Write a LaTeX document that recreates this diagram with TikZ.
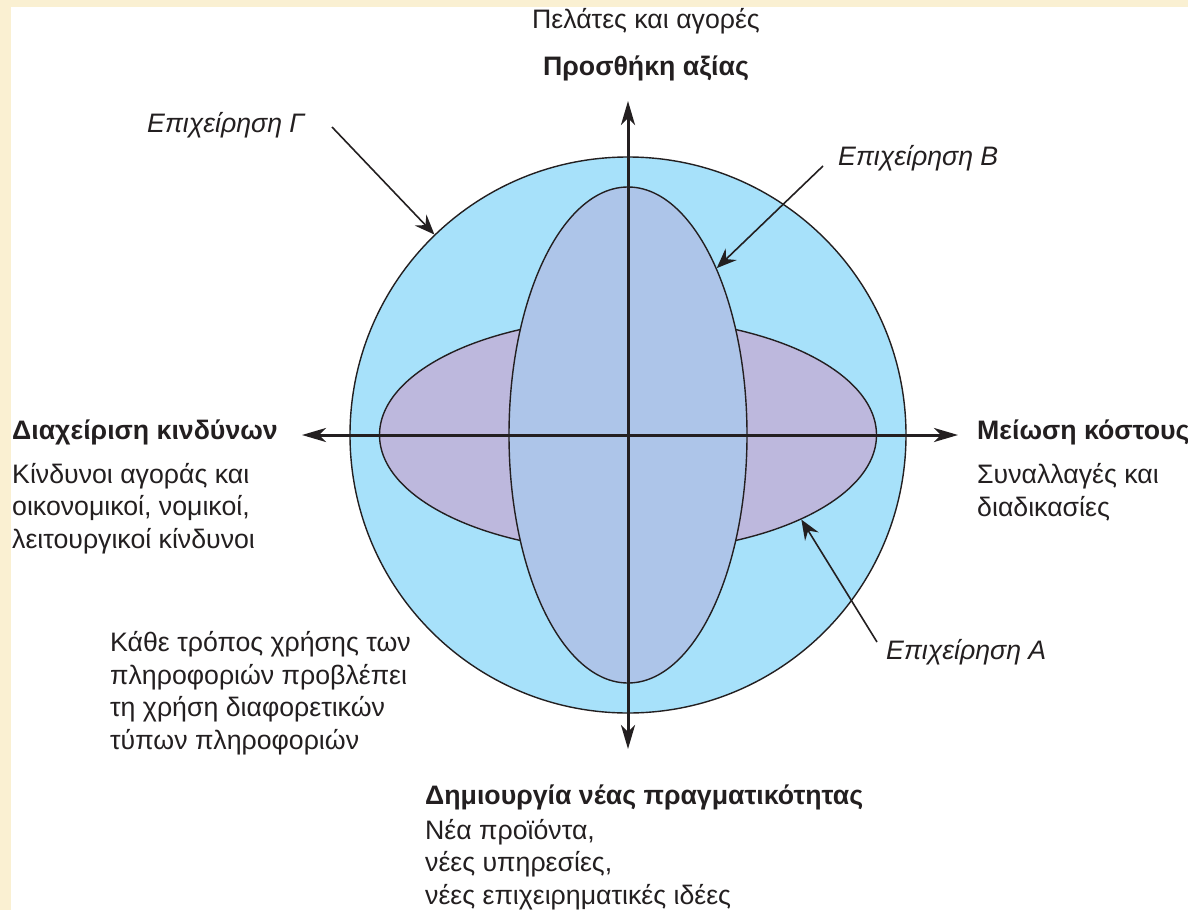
\documentclass[tikz,border=0pt]{standalone}
\usepackage{fontspec}
\setmainfont{Liberation Sans}
\usepackage{xcolor}
\usetikzlibrary{arrows.meta, shapes.geometric}

\definecolor{pagebeige}{HTML}{FAF0D2}
\definecolor{firmblue}{HTML}{A7E1FA}
\definecolor{firmsteel}{HTML}{ADC5E9}
\definecolor{firmlilac}{HTML}{BDB8DD}
\definecolor{inkgray}{HTML}{231F20}

\tikzset{
  txt/.style={inner sep=0pt, text=inkgray, font=\fontsize{26.7}{32.5}\selectfont},
  txtbold/.style={txt, font=\fontsize{26.7}{32.5}\selectfont\bfseries},
  txtit/.style={txt, font=\fontsize{26.7}{32.5}\selectfont\itshape},
  axis/.style={draw=inkgray, line width=3pt, {Stealth[length=24pt,width=14pt,inset=7pt]}-{Stealth[length=24pt,width=14pt,inset=7pt]}},
  pointer/.style={draw=inkgray, line width=1.6pt, -{Stealth[length=20pt,width=16pt,inset=7pt]}},
  firm/.style={draw=inkgray, line width=1.4pt, inner sep=0pt}
}

\begin{document}
\begin{tikzpicture}[x=1pt,y=-1pt]
\useasboundingbox (0,0) rectangle (1188,910);
\fill[pagebeige] (0,0) rectangle (1188,910);
\fill[white] (11,7) rectangle (1188,910);

% the three firms
\coordinate (ctr) at (628,435);
\node[firm, circle, fill=firmblue, minimum size=556pt] (firmC) at (ctr) {};
\node[firm, ellipse, fill=firmlilac, minimum width=497pt, minimum height=234pt] (firmA) at (ctr) {};
\node[firm, ellipse, fill=firmsteel, minimum width=238pt, minimum height=496pt] (firmB) at (ctr) {};

% axes
\coordinate (north) at (628,101);
\coordinate (south) at (628,749);
\coordinate (west) at (302,435);
\coordinate (east) at (958,435);
\draw[axis] (south) -- (north);
\draw[axis] (west) -- (east);

% labels (base of a multi-line node = its last line)
\node[txt] (customers) at (646,21) {Πελάτες και αγορές};
\node[txtbold] (valueadd) at (646,68) {Προσθήκη αξίας};
\node[txtit, anchor=west] (labelG) at (147,125) {Επιχείρηση Γ};
\node[txtit, anchor=west] (labelB) at (838,158) {Επιχείρηση Β};
\node[txtit, anchor=west] (labelA) at (886,652) {Επιχείρηση Α};
\node[txtbold, anchor=west] (risk) at (12,432) {Διαχείριση κινδύνων};
\node[txt, anchor=base west, align=left] (riskdesc) at (12,548)
  {Κίνδυνοι αγοράς και\\οικονομικοί, νομικοί,\\λειτουργικοί κίνδυνοι};
\node[txtbold, anchor=west] (cost) at (977,432) {Μείωση κόστους};
\node[txt, anchor=base west, align=left] (costdesc) at (977,516)
  {Συναλλαγές και\\διαδικασίες};
\node[txt, anchor=base west, align=left] (infouse) at (110,749)
  {Κάθε τρόπος χρήσης των\\πληροφοριών προβλέπει\\τη χρήση διαφορετικών\\τύπων πληροφοριών};
\node[txtbold, anchor=west] (newreal) at (425,797) {Δημιουργία νέας πραγματικότητας};
\node[txt, anchor=base west, align=left] (newdesc) at (425,904)
  {Νέα προϊόντα,\\νέες υπηρεσίες,\\νέες επιχειρηματικές ιδέες};

% pointers
\coordinate (tailG) at (332,127);
\coordinate (tailB) at (823,166);
\coordinate (tailA) at (877,642);
\draw[pointer] (tailG) -- (firmC.134);
\draw[pointer] (tailB) -- (firmB.62);
\draw[pointer] (tailA) -- (firmA.-26);
\end{tikzpicture}
\end{document}
